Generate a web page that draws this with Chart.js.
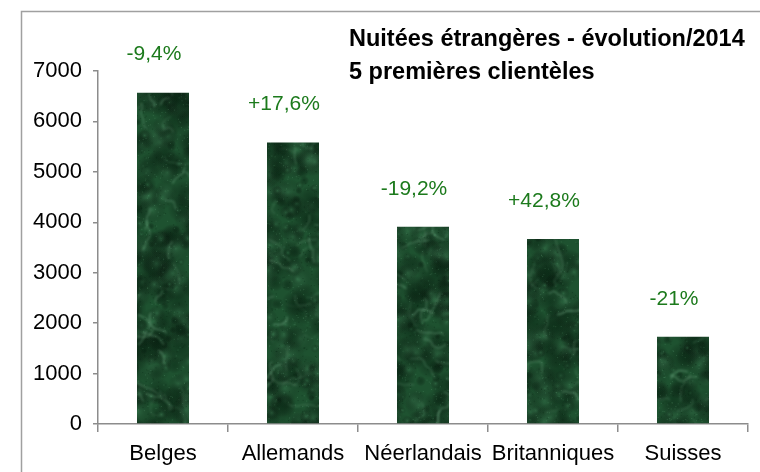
<!DOCTYPE html>
<html>
<head>
<meta charset="utf-8">
<script src="https://cdn.jsdelivr.net/npm/chart.js@4"></script>
<style>
  html, body { margin: 0; padding: 0; background: #fff; }
  #wrap { position: relative; width: 760px; height: 472px; }
</style>
</head>
<body>
<div id="wrap"><canvas id="chart" width="760" height="472"></canvas></div>
<script>
// ─── Data ─────────────────────────────────────────────────
const categories = ['Belges', 'Allemands', 'Néerlandais', 'Britanniques', 'Suisses'];
const nights = [6570, 5580, 3910, 3670, 1730];
const changes = ['-9,4%', '+17,6%', '-19,2%', '+42,8%', '-21%'];
const yTicks = [0, 1000, 2000, 3000, 4000, 5000, 6000, 7000];
const titleLines = ['Nuitées étrangères - évolution/2014', '5 premières clientèles'];

const FONT = 'Liberation Sans, Arial, sans-serif';

// ─── Green marble texture (one full-size tile, no seams) ──
function marblePattern(ctx) {
  const w = 760, h = 472;
  const c = document.createElement('canvas');
  c.width = w; c.height = h;
  const g = c.getContext('2d');
  let seed = 11;
  const rnd = () => { seed = (seed * 16807) % 2147483647; return seed / 2147483647; };

  g.fillStyle = '#1e5230';
  g.fillRect(0, 0, w, h);
  // cloudy blobs
  for (let i = 0; i < 3200; i++) {
    const x = rnd() * w, y = rnd() * h, r = 3 + rnd() * 14;
    const dark = rnd() < 0.5;
    const grd = g.createRadialGradient(x, y, 0, x, y, r);
    grd.addColorStop(0, dark ? 'rgba(8,40,20,0.5)' : 'rgba(64,132,88,0.42)');
    grd.addColorStop(1, 'rgba(0,0,0,0)');
    g.fillStyle = grd;
    g.fillRect(x - r, y - r, r * 2, r * 2);
  }
  // soft light veins, short and branching
  g.filter = 'blur(1px)';
  g.lineCap = 'round';
  g.lineJoin = 'round';
  for (let i = 0; i < 520; i++) {
    let x = rnd() * w, y = rnd() * h;
    g.strokeStyle = `rgba(140,200,160,${0.15 + rnd() * 0.3})`;
    g.lineWidth = 0.7 + rnd() * 1.0;
    g.beginPath();
    g.moveTo(x, y);
    let a = rnd() * Math.PI * 2;
    const steps = 3 + Math.floor(rnd() * 5);
    for (let s = 0; s < steps; s++) {
      a += (rnd() - 0.5) * 1.6;
      x += Math.cos(a) * (2 + rnd() * 5);
      y += Math.sin(a) * (2 + rnd() * 5);
      g.lineTo(x, y);
    }
    g.stroke();
  }
  g.filter = 'none';
  // fine speckle
  for (let i = 0; i < 12000; i++) {
    g.fillStyle = rnd() < 0.5 ? 'rgba(120,185,140,0.22)' : 'rgba(5,30,15,0.28)';
    g.fillRect(rnd() * w, rnd() * h, 1, 1);
  }
  return ctx.createPattern(c, 'no-repeat');
}

// ─── Plugins ──────────────────────────────────────────────
const frame = {
  id: 'frame',
  beforeDraw(chart) {
    const ctx = chart.ctx;
    ctx.save();
    ctx.strokeStyle = '#a0a0a0';
    ctx.lineWidth = 1.5;
    ctx.strokeRect(21.5, 11.5, 900, 600);
    ctx.restore();
  }
};

const titleBlock = {
  id: 'titleBlock',
  afterDraw(chart) {
    const ctx = chart.ctx;
    ctx.save();
    ctx.fillStyle = '#000';
    ctx.font = `bold 23.5px ${FONT}`;
    ctx.textAlign = 'left';
    ctx.textBaseline = 'alphabetic';
    ctx.fillText(titleLines[0], 349, 46);
    ctx.fillText(titleLines[1], 349, 79);
    ctx.restore();
  }
};

const changeLabels = {
  id: 'changeLabels',
  afterDatasetsDraw(chart) {
    const ctx = chart.ctx;
    const meta = chart.getDatasetMeta(0);
    ctx.save();
    ctx.fillStyle = '#1c7a1c';
    ctx.font = `21px ${FONT}`;
    ctx.textAlign = 'center';
    ctx.textBaseline = 'middle';
    meta.data.forEach((bar, i) => {
      ctx.fillText(changes[i], bar.x - 9, bar.y - 38);
    });
    ctx.restore();
  }
};

// ─── Chart ────────────────────────────────────────────────
const canvas = document.getElementById('chart');
const ctx = canvas.getContext('2d');

new Chart(ctx, {
  type: 'bar',
  data: {
    labels: categories,
    datasets: [{
      data: nights,
      backgroundColor: marblePattern(ctx),
      borderWidth: 0,
      barPercentage: 0.4,
      categoryPercentage: 1
    }]
  },
  options: {
    responsive: false,
    animation: false,
    layout: { padding: { top: 71, right: 12, left: 0, bottom: 0 } },
    plugins: { legend: { display: false }, tooltip: { enabled: false } },
    scales: {
      x: {
        grid: { display: true, drawOnChartArea: false, offset: true, tickLength: 8, color: '#8c8c8c', lineWidth: 1.5 },
        border: { color: '#8c8c8c', width: 1.5 },
        ticks: { color: '#000', font: { family: FONT, size: 22 }, padding: 9, maxRotation: 0 },
        afterFit(scale) { scale.height = 48; }
      },
      y: {
        min: 0, max: 7000,
        afterBuildTicks(scale) { scale.ticks = yTicks.map(v => ({ value: v })); },
        grid: { display: true, drawOnChartArea: false, tickLength: 5, color: '#8c8c8c', lineWidth: 1.5 },
        border: { color: '#8c8c8c', width: 1.5 },
        ticks: { color: '#000', font: { family: FONT, size: 22 }, padding: 11, callback: v => String(v) },
        afterFit(scale) { scale.width = 98; }
      }
    }
  },
  plugins: [frame, titleBlock, changeLabels]
});
</script>
</body>
</html>
